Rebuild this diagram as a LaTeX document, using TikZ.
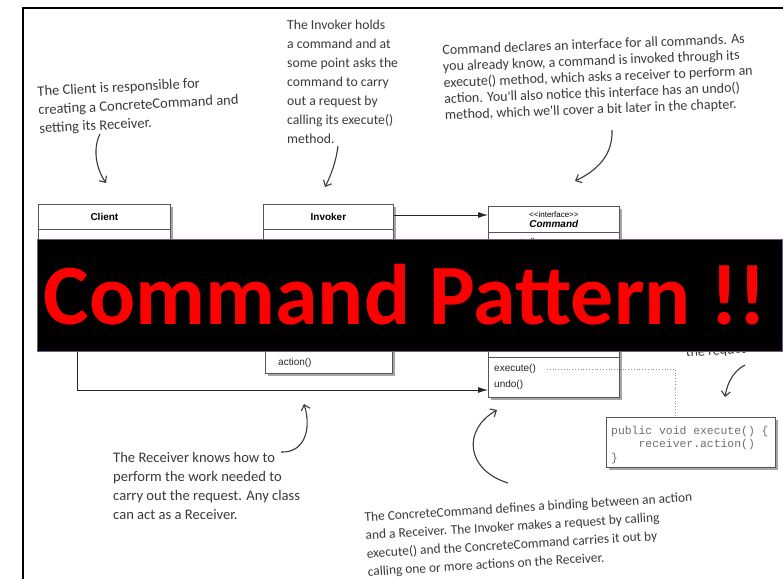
\documentclass[tikz,border=0pt]{standalone}
\usepackage{fontspec}
\setmainfont{Liberation Sans}
\newfontfamily\bannerfont{Carlito}
\newfontfamily\notefont{Carlito}
\newfontfamily\codefont{Liberation Mono}
\usetikzlibrary{arrows.meta,shadows}
\definecolor{ink}{HTML}{3A3A3A}
\definecolor{boxline}{HTML}{555555}
\definecolor{banred}{HTML}{FF0000}
\definecolor{banedge}{HTML}{6E5A80}
\definecolor{codegray}{HTML}{707070}
\tikzset{
  umlbox/.style={draw=boxline, line width=0.8pt, fill=white, inner sep=0pt, anchor=north west,
    drop shadow={shadow xshift=3pt, shadow yshift=-3pt, fill=black, opacity=0.35}},
  umlhead/.style={draw=boxline, line width=0.8pt, fill=white, inner sep=0pt, anchor=north west,
    font=\fontsize{10}{11}\selectfont\bfseries, align=center},
  member/.style={anchor=west, inner sep=0pt, font=\fontsize{10}{11}\selectfont, text=black!85},
  umlarrow/.style={draw=black!85, line width=1pt, -{Latex[length=10pt,width=6pt]}},
  note/.style={anchor=north west, inner sep=0pt, align=left, text=ink},
  notearrow/.style={draw=ink, line width=1.1pt, -{Straight Barb[length=5pt,width=9pt]}},
  dotline/.style={draw=black!45, line width=0.8pt, dotted},
  codetext/.style={anchor=north west, inner sep=0pt, align=left, text=codegray,
    font=\codefont\fontsize{11.4}{13.5}\selectfont},
}
\begin{document}
\begin{tikzpicture}[x=1pt,y=-1pt]
\useasboundingbox (0,0) rectangle (783,578);
\fill[white] (0,0) rectangle (783,578);
% frame
\draw[line width=2.5pt, black] (23,590) -- (23,8) -- (800,8);

% ---- notes ----
\node[note, rotate=3, font=\notefont\fontsize{14.5}{18.5}\selectfont] (clientnote) at (37,86)
  {The Client is responsible for\\creating a ConcreteCommand and\\setting its Receiver.};
\node[note, font=\notefont\fontsize{13.7}{19}\selectfont] (invokernote) at (287,20)
  {The Invoker holds\\a command and at\\some point asks the\\command to carry\\out a request by\\calling its execute()\\method.};
\node[note, rotate=2.2, font=\notefont\fontsize{14}{16.2}\selectfont] (commandnote) at (442,45)
  {Command declares an interface for all commands. As\\you already know, a command is invoked through its\\execute() method, which asks a receiver to perform an\\action. You'll also notice this interface has an undo()\\method, which we'll cover a bit later in the chapter.};
\node[note, font=\notefont\fontsize{14.6}{19}\selectfont] (receivernote) at (113,452)
  {The Receiver knows how to\\perform the work needed to\\carry out the request. Any class\\can act as a Receiver.};
\node[note, rotate=3.5, font=\notefont\fontsize{13.4}{18.3}\selectfont] (ccnote) at (364,512)
  {The ConcreteCommand defines a binding between an action\\and a Receiver. The Invoker makes a request by calling\\execute() and the ConcreteCommand carries it out by\\calling one or more actions on the Receiver.};
\node[note, anchor=base west, rotate=4, font=\notefont\fontsize{14}{16}\selectfont] (reqnote) at (686,357) {the request};

% ---- UML boxes ----
\node[umlbox, minimum width=132pt, minimum height=100pt] (client) at (38,204) {};
\node[umlhead, minimum width=132pt, minimum height=25pt] (clienth) at (38,204) {Client};

\node[umlbox, minimum width=130pt, minimum height=70pt] (invoker) at (263,204) {};
\node[umlhead, minimum width=130pt, minimum height=25pt] (invokerh) at (263,204) {Invoker};

\node[umlbox, minimum width=131pt, minimum height=80pt] (command) at (488,206) {};
\node[umlhead, minimum width=131pt, minimum height=26pt, font=\fontsize{10}{11}\selectfont] (commandh) at (488,206)
  {\fontsize{8}{9}\selectfont <{}<interface>{}>\\[-1pt]\textbf{\textit{Command}}};
\node[member] (cmdexec) at (494,243) {execute()};

\node[umlbox, minimum width=127pt, minimum height=73pt] (receiver) at (265,300) {};
\draw[draw=boxline, line width=0.8pt] (265,335) -- (392,335);
\node[member] (action) at (278,363) {action()};

\node[umlbox, minimum width=131pt, minimum height=87pt] (ccmd) at (488,310) {};
\draw[draw=boxline, line width=0.8pt] (488,357) -- (619,357);
\node[member] (ccexec) at (494,369) {execute()};
\node[member] (ccundo) at (494,385) {undo()};

\node[umlbox, minimum width=169pt, minimum height=50pt] (code) at (606,417) {};
\node[codetext] (codetxt) at (611,426) {public void execute() \{\\\ \ \ \ receiver.action()\\\}};

% ---- UML connectors ----
\draw[umlarrow] (invokerh.east |- 0,215) -- (command.west |- 0,215);
\coordinate (cbend) at (77,390);
\draw[umlarrow] (client.south -| cbend) -- (cbend) -- (ccmd.west |- cbend);
\coordinate (dotA) at (547,369);
\coordinate (dotB) at (675,369);
\draw[dotline] (dotA) -- (dotB) -- (dotB |- code.north);

% ---- note arrows ----
\coordinate (a1s) at (100,134); \coordinate (a1e) at (106,183);
\draw[notearrow] (a1s) .. controls (92,150) and (97,170) .. (a1e);
\coordinate (a2s) at (338,146); \coordinate (a2e) at (325,187);
\draw[notearrow] (a2s) .. controls (336,162) and (331,175) .. (a2e);
\coordinate (a3s) at (612,130); \coordinate (a3e) at (575,181);
\draw[notearrow] (a3s) .. controls (613,156) and (596,171) .. (a3e);
\coordinate (a4s) at (281,452); \coordinate (a4e) at (304,404);
\draw[notearrow] (a4s) .. controls (304,453) and (312,430) .. (a4e);
\coordinate (a5s) at (508,483); \coordinate (a5e) at (497,410);
\draw[notearrow] (a5s) .. controls (466,470) and (462,430) .. (a5e);
\coordinate (a6s) at (745,365); \coordinate (a6e) at (725,397);
\draw[notearrow] (a6s) .. controls (733,371) and (727,384) .. (a6e);

% ---- banner ----
\node[anchor=north west, fill=black, draw=banedge, line width=1pt, inner sep=0pt,
  minimum width=745pt, minimum height=112pt] (banner) at (37,239) {};
\node[anchor=base, inner sep=0pt, text=banred, font=\bannerfont\bfseries\fontsize{86}{90}\selectfont] (title) at (405,324) {Command Pattern !!};
\end{tikzpicture}
\end{document}
